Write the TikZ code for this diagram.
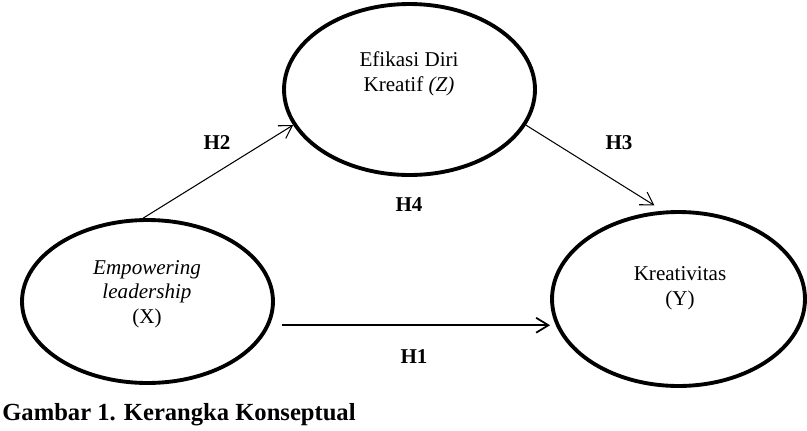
\documentclass[tikz,border=0pt]{standalone}
\usepackage{fontspec}
\setmainfont{Liberation Serif}
\usetikzlibrary{shapes.geometric}
\usetikzlibrary{arrows.meta}

\begin{document}
\begin{tikzpicture}[
    x=0.02cm, y=-0.02cm,
    every node/.style={font=\fontsize{12}{14}\selectfont},
    var/.style={ellipse, draw, line width=2.2pt, inner sep=0pt},
    var text/.style={align=center, inner sep=0pt},
    hyp/.style={font=\fontsize{12}{14}\selectfont\bfseries},
    path arrow/.style={draw, line width=0.6pt, -{Straight Barb[length=7pt, width=8.5pt]}}
  ]
  \useasboundingbox (0,0) rectangle (807,430);

  % Variables
  \node[var, minimum width=5.02cm, minimum height=3.42cm] (Z) at (409.5, 89.5) {};
  \node[var, minimum width=5.02cm, minimum height=3.26cm] (X) at (147.5, 301.5) {};
  \node[var, minimum width=5.06cm, minimum height=3.48cm] (Y) at (678.5, 299) {};

  \node[var text] (Ztxt) at (409, 74)  {Efikasi Diri\\Kreatif \textit{(Z)}};
  \node[var text] (Xtxt) at (147, 294) {\textit{Empowering}\\\textit{leadership}\\(X)};
  \node[var text] (Ytxt) at (680, 288) {Kreativitas\\(Y)};

  % Paths
  \draw[path arrow] (X.93) -- (Z.197);
  \draw[path arrow, shorten >=0.2cm] (Z.-17) -- (Y.100);
  \draw[path arrow, line width=1pt, shorten <=0.24cm] (X.-11) -- (X.-11 -| Y.west);

  % Hypotheses
  \node[hyp] (h2) at (217, 143) {H2};
  \node[hyp] (h3) at (619, 143) {H3};
  \node[hyp] (h4) at (409, 205) {H4};
  \node[hyp] (h1) at (414, 357) {H1};

  \node[font=\fontsize{14}{16}\selectfont\bfseries, anchor=west, inner sep=0pt] (cap) at (2, 415) {Gambar 1. Kerangka Konseptual};

\end{tikzpicture}
\end{document}
